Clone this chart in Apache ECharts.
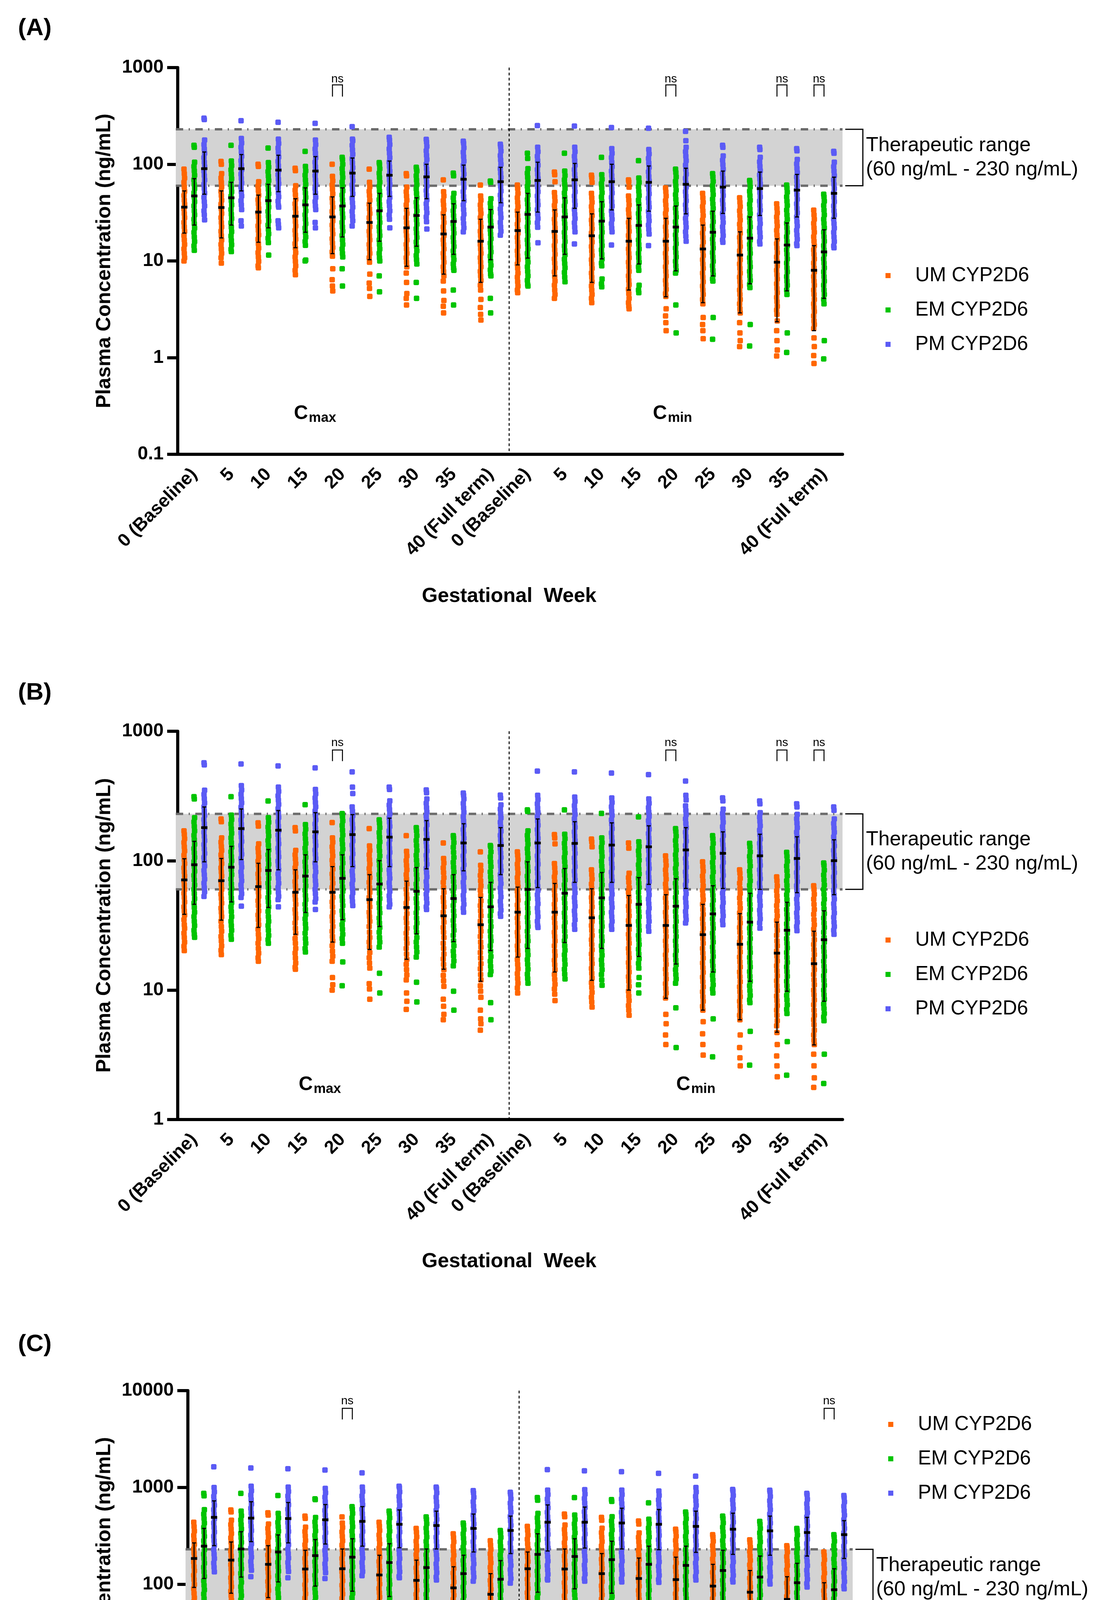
<!DOCTYPE html>
<html>
<head>
<meta charset="utf-8">
<title>Plasma concentration by CYP2D6 phenotype</title>
<script src="https://cdn.jsdelivr.net/npm/echarts/dist/echarts.min.js"></script>
<style>
  html, body { margin: 0; padding: 0; background: #fff; }
  #chart { width: 2852px; height: 5000px; }
</style>
</head>
<body>
<div id="chart"></div>
<script>
// categories: gestational week, first block Cmax then block Cmin
var weeks = ['0 (Baseline)', '5', '10', '15', '20', '25', '30', '35', '40 (Full term)'];
var categories = weeks.concat(weeks);
var genotypes = ['UM CYP2D6', 'EM CYP2D6', 'PM CYP2D6'];
var therapeutic = [60, 230];

// ---------- panel A : individual values (ng/mL), one list per category ----------
var umA = [
  [89,80,72,65,58.5,52.5,47.5,42.5,38.5,34.5,31,28,25,22.5,20.3,18.3,16.5,14.8,13.3,12,10.8,10],
  [107,100,80,72,65,58.5,52.5,47.5,42.5,38.5,34.5,31,28,25,22.5,20.3,18.3,16.5,14.8,13.3,12,10.8,9.5],
  [100,95,66,59.5,53.5,48,43,39,35,31.5,28.5,25.5,23,20.7,18.6,16.8,15.1,13.6,12.2,11,9.9,8.9,8.5],
  [91,86,60,54,48.5,43.5,39,35,31.5,28.5,25.5,23,20.7,18.6,16.8,15.1,13.6,12.2,11,9.9,8.9,8,7.2],
  [100,75,67.5,61,55,49.5,44.5,40,36,32.5,29,26,23.5,21,19,17,15.3,13.8,12.4,11.2,8.3,6.4,5.5,4.9],
  [89,65,58.5,52.5,47.5,42.5,38.5,34.5,31,28,25,22.5,20.3,18.3,16.5,14.8,13.3,12,10.8,9.7,7.3,5.9,5.2,4.3],
  [80,76,58,52,47,42.5,38,34,31,28,25,22.5,20.3,18.3,16.5,14.8,13.3,12,10.8,9.7,8.7,7.5,6,4.6,4.1,3.5],
  [69,52,47,42,38,34,31,28,25,22.5,20.3,18.3,16.5,14.8,13.3,12,10.8,9.7,8.7,7.8,7,6.2,4.9,3.9,3.4,2.9],
  [61,47,42.5,38,34,31,28,25,22.5,20.3,18.3,16.5,14.8,13.3,12,10.8,9.7,8.7,7.8,7,6.3,5.6,5,4,3.3,2.8,2.45],
  [61,56,50,45,40.5,36.5,33,29.5,26.5,24,21.5,19.4,17.5,15.7,14.1,12.7,11.4,10.3,9.3,8.4,7.5,6.8,6.1,5.5,5,4.7],
  [83,78,66,51,46,41.5,37.5,33.5,30,27,24.5,22,19.8,17.8,16,14.4,13,11.7,10.5,9.5,8.5,7.7,6.9,6.2,5.6,5,4.5,4.1],
  [77,73,65,50,45,40.5,36.5,33,29.5,26.5,24,21.5,19.4,17.5,15.7,14.1,12.7,11.4,10.3,9.3,8.4,7.5,6.8,6.1,5.5,5,4.5,4.1,3.7],
  [69,66,58,47,42.5,38,34,31,28,25,22.5,20.3,18.3,16.5,14.8,13.3,12,10.8,9.7,8.7,7.8,7,6.3,5.7,5.1,4.6,4.1,3.7,3.4,3.2],
  [57,52,47,42,38,34,31,28,25,22.5,20.3,18.3,16.5,14.8,13.3,12,10.8,9.7,8.7,7.8,7,6.3,5.7,5.1,4.6,4.3,3.2,2.7,2.3,1.9],
  [50,45,40.5,36.5,33,29.5,26.5,24,21.5,19.4,17.5,15.7,14.1,12.7,11.4,10.3,9.3,8.4,7.5,6.8,6.1,5.5,5,4.5,4,3.6,2.6,2.2,1.9,1.57],
  [45,40.5,36.5,33,29.5,26.5,24,21.5,19.4,17.5,15.7,14.1,12.7,11.4,10.3,9.3,8.4,7.5,6.8,6.1,5.5,5,4.5,4,3.6,3.2,2.9,2.3,1.8,1.5,1.3],
  [39,35,31.5,28.5,25.5,23,20.7,18.6,16.8,15.1,13.6,12.2,11,9.9,8.9,8,7.2,6.5,5.8,5.2,4.7,4.2,3.8,3.4,3.1,2.8,2.4,1.9,1.5,1.2,1.04],
  [33.5,30,27,24.5,22,19.8,17.8,16,14.4,13,11.7,10.5,9.5,8.5,7.7,6.9,6.2,5.6,5,4.5,4,3.6,3.3,3,2.7,2.4,2.2,2,1.6,1.3,1.05,0.87]
];
var emA = [
  [157,150,105,95,85.5,77,69,62,56,50.5,45.5,41,37,33,30,27,24.3,21.9,19.7,17.7,15.9,14.3,12.9],
  [157,108,97,87.5,79,71,64,57.5,52,46.5,42,38,34,30.5,27.5,24.8,22.3,20.1,18.1,16.3,14.7,13.2,12.5],
  [147,104,93.5,84,75.5,68,61,55,49.5,44.5,40,36,32.5,29,26,23.5,21.2,19.1,17.2,15.5,11.5],
  [136,95,85.5,77,69,62,56,50.5,45.5,41,37,33,30,27,24.3,21.9,19.7,17.7,15.9,14.5,10.2,10],
  [118,112,100,90,81,73,65.5,59,53,48,43,38.5,34.5,31,28,25,22.5,20.3,18.3,16.5,14.8,13.3,12,11,8.3,5.5],
  [104,100,90,81,73,65.5,59,53,48,43,38.5,34.5,31,28,25,22.5,20.3,18.3,16.5,14.8,13.3,12,10.8,10,7,4.8],
  [93,88,85,76,68.5,61.5,55.5,50,45,40.5,36.5,33,29.5,26.5,24,21.5,19.4,17.5,15.7,14.1,12.7,11.4,10.3,9.3,6,4.1],
  [81,76,50,45,40.5,36.5,33,29.5,26.5,24,21.5,19.4,17.5,15.7,14.1,12.7,11.4,10.3,9.3,8.4,8,5,3.5],
  [67,65,44,39.5,35.5,32,29,26,23.5,21,19,17,15.3,13.8,12.4,11.2,10,9,8.1,7.3,7,4.1,2.9],
  [130,115,90,81,73,65.5,59,53,48,43,38.5,34.5,31,28,25,22.5,20.3,18.3,16.5,14.8,13.3,12,10.8,9.7,8.7,7.8,7,6.3,5.7,5.5],
  [130,85,76.5,69,62,56,50.5,45.5,41,37,33,30,27,24.3,21.9,19.7,17.7,15.9,14.3,12.9,11.6,10.4,9.4,8.5,7.6,6.8,6.1],
  [118,78,70,63,57,51,46,41.5,37.5,33.5,30,27,24.5,22,19.8,17.8,16,14.4,13,11.7,10.5,9.5,8.9,6.5,5.8,5.4],
  [109,72,65,58.5,52.5,47.5,42.5,38.5,34.5,31,28,25,22.5,20.3,18.3,16.5,14.8,13.3,12,10.8,9.7,8.7,8,5.6,5,4.7],
  [89,82,74,66.5,60,54,48.5,43.5,39,35,31.5,28.5,25.5,23,20.7,18.6,16.8,15.1,13.6,12.2,11,9.9,8.9,8,7.5,3.5,1.8],
  [80,74,66.5,60,54,48.5,43.5,39,35,31.5,28.5,25.5,23,20.7,18.6,16.8,15.1,13.6,12.2,11,9.9,8.9,8,7.2,6.5,6.2,2.6,1.55],
  [68,65,58.5,52.5,47.5,42.5,38.5,34.5,31,28,25,22.5,20.3,18.3,16.5,14.8,13.3,12,10.8,9.7,8.7,7.8,7,6.3,5.7,5.3,2.2,1.32],
  [61,57,51.5,46,41.5,37.5,33.5,30,27,24.5,22,19.8,17.8,16,14.4,13,11.7,10.5,9.5,8.5,7.7,6.9,6.2,5.6,5,4.5,1.8,1.13],
  [49,46,41.5,37.5,33.5,30,27,24.5,22,19.8,17.8,16,14.4,13,11.7,10.5,9.5,8.5,7.7,6.9,6.2,5.6,5,4.5,4,3.6,1.5,0.97]
];
var pmA = [
  [300,290,178,160,144,130,117,105,94.5,85,76.5,69,62,56,50.5,45.5,41,37,33,30,26.6],
  [282,185,166,150,135,121,109,98,88,79,71.5,64,58,52,47,42,38,34,26,23],
  [272,182,164,147,133,119,107,96.5,87,78,70,63,57,51,46,41.5,37.5,36,26,24,22],
  [265,178,160,144,130,117,105,94.5,85,76.5,69,62,56,50.5,45.5,41,37,34,25,22],
  [245,182,175,157,141,127,114,103,92.5,83,75,67.5,61,55,49.5,44.5,40,36,32.5,29,26,23],
  [190,178,160,144,130,117,105,94.5,85,76.5,69,62,56,50.5,45.5,41,37,33,30,27,22],
  [181,170,153,138,124,112,100,90,81,73,66,59.5,53.5,48,43,39,35,31.5,28.5,25.5,21.4],
  [173,165,148,133,120,108,97,87.5,79,71,64,57.5,52,46.5,42,38,34,30.5,27.5,24.5,22,20],
  [161,152,137,123,111,100,90,81,73,65.5,59,53,48,43,38.5,34.5,31,28,25,22.5,20.3,18.5],
  [251,150,135,121,109,98,88,79,71.5,64,58,52,47,42,38,34,30.5,27.5,24.8,22.3,15.4],
  [248,150,135,121,109,98,88,79,71.5,64,58,52,47,42,38,34,30.5,27.5,24.8,22.3,20,15],
  [240,145,130,117,105,94.5,85,76.5,69,62,56,50.5,45.5,41,37,33,30,27,24.3,21.9,20,14.6],
  [236,142,128,115,103,93,83.5,75,67.5,61,55,49.5,44.5,40,36,32.5,29,26,23.5,21.2,19,14.4],
  [219,175,150,135,121,109,98,88,79,71.5,64,58,52,47,42,38,34,30.5,27.5,24.8,22.3,20,18,16],
  [157,150,122,110,99,89,80,72,65,58.5,52.5,47.5,42.5,38.5,34.5,31,28,25,22.5,20.3,18.3,16.5,15.6],
  [150,142,118,106,95.5,86,77.5,70,63,56.5,51,46,41.5,37.5,33.5,30,27,24.3,21.9,19.7,17.7,15.9,15],
  [145,138,112,101,91,82,74,66.5,60,54,48.5,43.5,39,35,31.5,28.5,25.5,23,20.7,18.6,16.8,15.1,14.4],
  [136,130,105,94.5,85,76.5,69,62,56,50.5,45.5,41,37,33,30,27,24.3,21.9,19.7,17.7,15.9,14.3,13.7]
];
// [lower, centre, upper] of the black error bars
var umBarA = [[19.4,36,53],[17.3,35.7,53],[15.6,32,48],[13.7,29,44],[11.9,28.5,46],[10.3,25,39.6],[8.8,22,35],[7.3,19,30],[6,16,27],
  [9.1,20.6,32],[7,20.2,33.7],[6,18.2,30.7],[5,16,27.6],[4.26,16,27.6],[3.7,13.3,23.5],[2.9,11.5,20],[2.35,9.7,16.9],[1.9,8,14.4]];
var emBarA = [[23.5,47,71],[23.5,45,65],[22,42,62],[19.8,38,57],[17.7,37,57],[16,33,50],[14.2,29.5,45],[11.7,25.6,39],[10.3,22.4,34],
  [10.7,30.3,50],[11.7,28.5,45],[10.5,25.8,41],[9.3,23.3,38],[7.9,22.4,37],[7,19.8,32.7],[5.8,17.2,28.5],[4.9,14.6,24.7],[4.1,12.4,21]];
var pmBarA = [[49,90,134],[53,90,126],[52,87,124],[49,85,120],[46.5,81,116],[46.5,77,108],[44,74,100],[42,70,98],[40,66,93],
  [32,68,105],[35,69,102],[33.7,66,100],[32.7,65,96],[30.7,62,91],[31,58,85],[29.5,56,83],[28.5,54,78.5],[27.6,50,73.5]];

// ---------- panel B ----------
var umB = [
  [170,160,148,138,128,119,110,102,95,88,82,76,70,65,60,56,52,48,44,41,38,35,32,30,27.5,25.5,23.5,21.8,20.2],
  [210,200,150,139,129,120,111,103,95,88,82,76,70,65,60,55,51,47,43,40,37,34,31,28.5,26,24,22,20.3,18.8],
  [196,185,135,125,116,107,99,92,85,79,73,67,62,57,53,49,45,41,38,35,32,29.5,27,25,23,21,19.3,17.8,16.7],
  [180,170,120,111,103,95,88,81,75,69,64,59,54,50,46,42,39,36,33,30,27.5,25,23,21,19.3,17.7,16.2,15,14.5],
  [197,150,139,128,118,109,101,93,86,79,73,67,62,57,52,48,44,40,37,34,31,28.5,26,24,22,20,18.3,16.7,12.5,11,10],
  [177,130,120,111,102,94,87,80,74,68,62,57,52,48,44,40,37,34,31,28,25.5,23.5,21.5,19.5,17.8,16.2,14.8,11.2,10.2,8.5],
  [156,118,109,100,92,85,78,72,66,60,55,51,47,43,39,36,33,30,27.5,25,23,21,19,17.3,15.8,14.4,13.1,12,9.5,8.2,7.1],
  [137,104,96,88,81,74,68,62,57,52,48,44,40,36.5,33.5,30.5,28,25.5,23,21,19,17.4,15.8,14.4,13,11.8,10.7,8.5,7.5,6.5,5.9],
  [117,92,84,77,70,64,59,54,49,45,41,37.5,34,31,28.5,26,23.5,21.5,19.5,17.7,16,14.6,13.2,12,10.8,9.8,8.8,7,6,5.5,4.9],
  [117,110,102,94,87,80,74,68,63,58,53.5,49.5,45.5,42,39,36,33,30.5,28,26,24,22,20.3,18.7,17.2,15.8,14.6,13.4,12.3,11.3,10.4,9.5],
  [159,150,135,95,88,81,75,69,64,59,54,50,46,42.5,39,36,33,30.5,28,26,24,22,20,18.5,17,15.7,14.4,13.2,12.1,11.1,10.2,9.3,8.3],
  [147,140,128,85,78,72,66,61,56,52,48,44,40.5,37,34,31.5,29,26.5,24.5,22.5,20.5,19,17.4,16,14.7,13.5,12.4,11.4,10.5,9.6,8.8,8.1,7.4],
  [137,125,80,74,68,62,57,53,48.5,44.5,41,37.5,34.5,32,29.5,27,25,23,21,19.3,17.8,16.3,15,13.8,12.7,11.7,10.7,9.8,9,8.3,7.6,7,6.4],
  [109,100,92,85,78,72,66,61,56,51.5,47.5,43.5,40,37,34,31,28.5,26,24,22,20.3,18.7,17.2,15.8,14.5,13.3,12.2,11.2,10.3,9.5,8.7,6.5,5.5,4.5,3.8],
  [98,90,83,76,70,64,59,54,50,46,42,38.5,35.5,32.5,30,27.5,25,23,21,19.3,17.7,16.2,14.9,13.7,12.6,11.6,10.6,9.7,8.9,8.2,7.5,7,5.7,4.6,3.8,3.15],
  [85,80,73,67,61,56,51.5,47,43,39.5,36,33,30.5,28,25.5,23.5,21.5,19.7,18,16.5,15.1,13.8,12.7,11.6,10.6,9.7,8.9,8.2,7.5,6.9,6.4,5.9,4.5,3.6,3,2.6],
  [75,70,64,58.5,53.5,49,45,41,37.5,34.5,31.5,29,26.5,24,22,20,18.3,16.8,15.4,14.1,12.9,11.8,10.8,9.9,9,8.3,7.6,7,6.4,5.8,5.3,4.7,3.8,3.1,2.6,2.14],
  [64,60,55,50.5,46,42,38.5,35,32,29.5,27,24.5,22.5,20.5,18.8,17.2,15.7,14.4,13.2,12,11,10,9.2,8.4,7.7,7,6.4,5.9,5.4,4.9,4.5,4.1,3.8,3.2,2.6,2.1,1.77]
];
var emB = [
  [312,300,215,199,184,170,157,145,134,124,115,106,98,90,83,77,71,65,60,55.5,51,47,43.5,40,37,34,31.5,29,27,25.6],
  [312,225,208,192,177,163,150,138,127,117,108,100,92,85,78,72,66,61,56,51.5,47.5,44,40.5,37,34,31.5,29,26.5,24.7],
  [289,215,198,182,168,155,143,132,121,111,102,94,87,80,73,67,62,57,52,48,44,40.5,37,34,31.5,29,26.5,24.5,23],
  [271,190,175,161,148,136,125,115,106,98,90,83,76,70,64,59,54,50,46,42,38.5,35.5,32.5,30,27.5,25,23,21,19.7],
  [231,220,203,187,172,158,145,134,123,113,104,96,88,81,75,69,63,58,53,49,45,41,38,35,32,29.5,27,25,23,16.5,10.8],
  [207,195,180,165,152,140,129,119,109,100,92,85,78,72,66,61,56,51,47,43,39.5,36,33,30.5,28,25.5,23.5,21.5,13.5,9.5],
  [180,170,156,143,131,120,110,101,93,85,78,72,66,61,56,51,47,43,39.5,36,33,30.5,28,25.5,23.5,21.5,19.7,18,11.5,8.1],
  [156,150,138,127,116,106,97,89,82,75,69,63,58,53,49,45,41,37.5,34.5,31.5,29,26.5,24,22,20,18.4,16.8,15.4,9.8,7],
  [131,128,117,107,98,90,82,75,69,63,58,53,48.5,44.5,41,37.5,34,31,28.5,26,24,22,20,18.2,16.7,15.3,14,13.2,8,5.9],
  [247,240,170,157,145,134,124,114,105,97,90,83,76,70,65,60,55,51,47,43,39.5,36.5,33.5,31,28.5,26,24,22,20.3,18.7,17.2,15.8,14.5,13.3,12.3,11.3],
  [247,160,148,136,125,115,106,98,90,83,77,71,65,60,55,51,47,43,39.5,36.5,33.5,31,28.5,26,24,22,20.3,18.7,17.2,15.8,14.5,13.3,12.2],
  [232,150,138,127,117,108,99,91,84,77,71,65,60,55,51,47,43,39.5,36.5,33.5,31,28.5,26,24,22,20.2,18.6,17.1,15.7,14.4,13.2,12,10.9],
  [218,140,129,119,110,101,93,86,79,73,67,62,57,52,48,44,40.5,37,34,31.5,29,26.5,24.5,22.5,20.7,19,17.5,16.1,14.8,12.5,11,9.5],
  [177,168,155,143,131,121,111,102,94,87,80,73,67,62,57,52,48,44,40.5,37,34,31,28.5,26,24,22,20.2,18.6,17.1,15.7,14.4,13.2,12.2,11.3,7.3,3.6],
  [156,148,136,125,115,106,97,89,82,75,69,63.5,58.5,54,49.5,45.5,42,38.5,35.5,32.5,30,27.5,25.5,23.5,21.5,19.8,18.2,16.7,15.4,14.1,13,12,11,10.2,9.5,6,3.05],
  [136,128,117,108,99,91,83,76.5,70,64.5,59,54.5,50,46,42,38.5,35.5,32.5,30,27.5,25,23,21.2,19.5,17.9,16.4,15.1,13.9,12.8,11.7,10.8,9.9,9.1,8.4,8,4.8,2.63],
  [116,108,99,91,83.5,76.5,70,64.5,59,54.5,50,46,42,38.5,35.5,32.5,30,27.5,25,23,21.2,19.5,17.9,16.4,15.1,13.9,12.8,11.7,10.8,9.9,9.1,8.4,7.7,7.1,6.6,4,2.2],
  [96,92,84.5,77.5,71,65,60,55,50.5,46.5,42.5,39,36,33,30.5,28,25.5,23.5,21.5,19.8,18.2,16.7,15.3,14.1,12.9,11.9,10.9,10,9.2,8.5,7.8,7.2,6.6,6.2,5.8,3.2,1.9]
];
var pmB = [
  [571,550,350,325,302,280,260,241,224,208,193,179,166,154,143,133,123,114,106,98,91,84,78,72,67,62,57.5,53],
  [559,380,352,326,302,280,259,240,222,206,191,177,164,152,141,131,121,112,104,96,89,82,76,70,65,60,55.5,52,44.5],
  [540,370,343,317,294,272,252,233,216,200,185,171,158,146,135,125,116,107,99,92,85,79,73,67,62,57,53,50,44],
  [521,355,329,305,282,261,242,224,207,192,178,165,153,141,131,121,112,104,96,89,82,76,70,65,60,55.5,51,48,42],
  [485,370,330,260,241,223,207,192,178,165,153,142,132,122,113,105,97,90,83,77,71,66,61,56.5,52.5,48.5,45],
  [370,355,290,269,249,231,214,198,184,170,158,146,135,125,116,107,99,92,85,79,73,67.5,62.5,58,53.5,49.5,46,44],
  [352,335,300,278,257,238,221,204,189,175,162,150,139,129,119,110,102,94,87,81,75,69,64,59,55,51,47,44,42],
  [333,320,300,277,256,237,219,203,188,174,161,149,138,127,118,109,101,93,86,80,74,68,63,58.5,54,50,46,43,40],
  [321,305,270,250,231,214,198,183,169,157,145,134,124,115,106,98,91,84,78,72,66.5,61.5,57,52.5,48.5,45,41.5,39,37.2],
  [492,320,297,275,255,236,219,203,188,174,161,149,138,128,118,109,101,94,87,80,74,68.5,63.5,59,54.5,50.5,46.5,43,40,37,34,31.5,30.5],
  [485,310,287,266,246,228,211,195,181,167,155,143,133,123,114,105,97,90,83,77,71,66,61,56.5,52,48,44.5,41,38,35,32,29.5],
  [475,305,282,261,242,224,207,192,177,164,152,141,130,120,111,103,95,88,81.5,75.5,70,64.5,59.5,55,51,47,43.5,40,37,34,31.5,29.5],
  [462,300,278,257,238,220,204,189,175,162,150,139,128,119,110,102,94,87,80.5,74.5,69,64,59,54.5,50.5,46.5,43,40,37,34,31,28.5],
  [412,320,295,265,245,227,210,194,180,166,154,142,131,121,112,104,96,89,82,76,70,65,60,55.5,51.5,47.5,44,40.5,37.5,35,33],
  [306,290,250,231,214,198,183,169,156,144,133,123,114,105,97,90,83,77,71,65.5,60.5,56,51.5,47.5,44,40.5,37.5,34.5,32],
  [289,275,235,217,201,186,172,159,147,136,126,116,107,99,92,85,78.5,72.5,67,62,57,53,49,45,41.5,38.5,35.5,33,30.1],
  [275,260,228,211,195,180,166,153,141,130,120,111,103,95,88,81,75,69,64,59,54.5,50.5,46.5,43,39.5,36.5,33.5,31,28.8],
  [260,245,210,194,179,166,153,141,130,120,111,103,95,88,81,75,69,64,59,54.5,50.5,46.5,43,39.5,36.5,33.5,31,29,27]
];
var umBarB = [[38.5,71,103.5],[34.7,70,104],[30.5,63,95.5],[27,57,85],[23.5,57,90],[20.6,50,78],[17.3,43.5,69.5],[14.5,37.5,60.7],[11.7,32,52],
  [18,40,62.5],[13.8,40,66.7],[11.9,36.2,60.7],[10,31.6,53.8],[8.65,31.6,54.6],[7,26.8,46],[5.9,22.6,39],[4.73,19.3,33.5],[3.77,16,28.5]];
var emBarB = [[46,93,141],[48,89,129],[43.5,84,122],[39.8,76,111],[35,73,111],[31,66,100],[27.2,58,88.5],[23.7,51,78],[20.2,44,68],
  [21,60,98],[23.3,56,87],[21,51.6,81],[18.2,46,74],[15.9,44.5,72.5],[13.8,38.8,64],[11.7,33.5,56],[9.8,29,47.7],[8.2,24.5,41]];
var pmBarB = [[98,180,260],[102,177,251],[85,172,244],[98,167,235],[90,159,227],[90,152,213],[86.5,146,204],[83.5,137,193],[78,131,180],
  [62,137,210],[68,136,200],[68,132,196],[65.6,128,186],[61,121,180],[61,114,167],[60,109,160],[56.6,104,153],[54.6,100,145]];

// ---------- panel C ----------
var umC = [
  [438,395,355,320,288,259,233,210,189,170,153,138,124,112,100,90,81,73,66,59,53,48.5],
  [587,560,460,414,373,335,302,272,245,220,198,178,160,144,130,117,105,94.5,85,76.5,69,62,56,50.5,45],
  [548,520,420,378,340,306,275,248,223,201,181,163,146,132,119,107,96,86.5,78,70,63,56.5,51,46,41.5,40],
  [507,480,390,351,316,284,256,230,207,186,168,151,136,122,110,99,89,80,72,65,58.5,52.5,47.5,42.5,38.5,35],
  [497,430,387,348,313,282,254,228,205,185,166,150,135,121,109,98,88,79.5,71.5,64.5,58,52,47,42,38,34,30.5,27.5,24.8,22.9],
  [438,400,360,324,292,262,236,212,191,172,155,139,125,113,101,91,82,74,66.5,60,54,48.5,43.5,39,35,31.5,28.5,25.5,23,20.7,19.5],
  [378,345,310,279,251,226,203,183,165,148,133,120,108,97,87.5,79,71,64,57.5,52,46.5,42,38,34,30.5,27.5,24.8,22.3,20.1,18.1,16.3,16],
  [333,305,275,247,222,200,180,162,146,131,118,106,95.5,86,77.5,70,63,56.5,51,46,41.5,37.5,33.5,30,27,24.3,21.9,19.7,17.7,15.9,14.3,13.3],
  [282,255,230,207,186,167,150,135,122,110,99,89,80,72,65,58.5,52.5,47.5,42.5,38.5,34.5,31,28,25,22.5,20.3,18.3,16.5,14.8,13.3,12,11.4],
  [397,360,324,292,262,236,212,191,172,155,139,125,113,101,91,82,74,66.5,60,54,48.5,43.5,39,35],
  [532,500,410,369,332,299,269,242,218,196,176,159,143,129,116,104,94,84.5,76,68.5,61.5,55.5,50,45,40.5,36.5,33],
  [492,460,380,342,308,277,249,224,202,182,164,147,132,119,107,96.5,87,78,70,63,57,51,46,41.5,37.5,33.5,30,28.9],
  [451,420,340,306,275,248,223,201,181,163,146,132,119,107,96,86.5,78,70,63,56.5,51,46,41.5,37.5,33.5,30,27,25],
  [371,350,315,284,255,230,207,186,167,151,136,122,110,99,89,80,72,65,58.5,52.5,47.5,42.5,38.5,34.5,31,28,24,20,17.5,15.5],
  [326,310,279,251,226,203,183,165,148,133,120,108,97,87.5,79,71,64,57.5,52,46.5,42,38,34,30.5,27.5,25,21,17,14.5,12.7],
  [288,270,243,219,197,177,159,143,129,116,104,94,84.5,76,68.5,61.5,55.5,50,45,40.5,36.5,33,29.5,26.5,24,21.5,20,16.5,13.5,11.5,10.5],
  [251,240,216,194,175,157,141,127,114,103,93,83.5,75,67.5,61,55,49.5,44.5,40,36,32.5,29,26,23.5,21.2,19.1,17.2,16,13,11,9.5,8.6],
  [216,200,180,162,146,131,118,106,95.5,86,77.5,70,63,56.5,51,46,41.5,37.5,33.5,30,27,24.3,21.9,19.7,17.7,15.9,14.3,12.9,10.5,9,7.8,7.1]
];
var emC = [
  [871,820,590,531,478,430,387,348,313,282,254,228,205,185,166,150,135,121,109,98,88,79.5,71.5,64.5,63],
  [871,570,513,462,415,374,336,303,272,245,221,199,179,161,145,130,117,105,94.5,85,76.5,69,62],
  [826,540,486,437,394,354,319,287,258,232,209,188,169,152,137,123,111,100,90,81,73,65.5,59,56],
  [764,750,490,441,397,357,321,289,260,234,211,190,171,154,138,124,112,101,91,82,74,66.5,60,54,48.5],
  [635,600,540,486,437,394,354,319,287,258,232,209,188,169,152,137,123,111,100,90,81,73,65.5,59,38.7,24.5],
  [570,540,486,437,394,354,319,287,258,232,209,188,169,152,137,123,111,100,90,81,73,65.5,59,53,48,33,21],
  [497,470,423,381,343,308,278,250,225,202,182,164,148,133,120,108,97,87.5,79,71,64,57.5,52,46.5,42,28.3,18.2],
  [430,410,369,332,299,269,242,218,196,176,159,143,129,116,104,94,84.5,76,68.5,61.5,55.5,50,45,40.5,38,22.9,15.5],
  [360,340,306,275,248,223,201,181,163,146,132,119,107,96,86.5,78,70,63,56.5,51,46,41.5,37.5,33.5,19.1,13],
  [787,740,540,486,437,394,354,319,287,258,232,209,188,169,152,137,123,111,100,90,81,73,65.5,59,53,48,44],
  [787,520,468,421,379,341,307,276,249,224,201,181,163,147,132,119,107,96.5,87,78,70,63,57,51,46],
  [750,720,500,450,405,365,328,295,266,239,215,194,174,157,141,127,114,103,93,83.5,75,67.5,61,55,49.5,44.5,40],
  [694,470,423,381,343,308,278,250,225,202,182,164,148,133,120,108,97,87.5,79,71,64,57.5,52,46.5,42,38,35.5],
  [559,530,477,429,386,348,313,282,254,228,205,185,166,150,135,121,109,98,88,79.5,71.5,64.5,58,52,47,42.5,40,26.2,14.6],
  [507,480,432,389,350,315,283,255,230,207,186,167,151,136,122,110,99,89,80,72,65,58.5,52.5,47.5,42.5,38.5,21.5,12.6],
  [447,420,378,340,306,275,248,223,201,181,163,146,132,119,107,96,86.5,78,70,63,56.5,51,46,41.5,37.5,33.5,31,17.7,10.7],
  [378,360,324,292,262,236,212,191,172,155,139,125,113,101,91,82,74,66.5,60,54,48.5,43.5,39,35,31.5,28.5,26,15,9],
  [326,310,279,251,226,203,183,165,148,133,120,108,97,87.5,79,71,64,57.5,52,46.5,42,38,34,30.5,27.5,24.8,22.3,12.3,7.6]
];
var pmC = [
  [1636,1000,900,810,729,656,590,531,478,430,387,348,313,282,254,228,205,185,166,150,135],
  [1590,1030,927,834,751,676,608,547,493,443,399,359,323,291,262,236,212,191,172,155,140,120],
  [1560,1010,909,818,736,663,596,537,483,435,391,352,317,285,257,231,208,187,168,151,136,117],
  [1514,980,882,794,714,643,579,521,469,422,380,342,307,277,249,224,202,182,163,147,132,115],
  [1416,1010,909,818,736,663,596,537,483,435,391,352,317,285,257,231,208,187,168,151,136,123],
  [1030,1000,900,810,729,656,590,531,478,430,387,348,313,282,254,228,205,185,166,150,135,121,117],
  [1009,980,882,794,714,643,579,521,469,422,380,342,307,277,249,224,202,182,163,147,132,119,111],
  [929,880,792,713,642,577,520,468,421,379,341,307,276,248,223,201,181,163,147,132,119,108],
  [893,850,765,689,620,558,502,452,407,366,329,296,267,240,216,194,175,157,142,128,115,103],
  [1531,940,846,761,685,617,555,500,450,405,364,328,295,266,239,215,194,174,157,141,127,114,111],
  [1486,950,855,770,693,623,561,505,454,409,368,331,298,268,241,217,196,176,158,143,128,115,108],
  [1456,940,846,761,685,617,555,500,450,405,364,328,295,266,239,215,194,174,157,141,127,114,106],
  [1400,920,828,745,671,604,543,489,440,396,356,321,289,260,234,211,190,171,154,138,124,112,105],
  [1309,1000,900,810,729,656,590,531,478,430,387,348,313,282,254,228,205,185,166,150,135,121,111],
  [955,920,828,745,671,604,543,489,440,396,356,321,289,260,234,211,190,171,154,138,124,112,106],
  [937,900,810,729,656,590,531,478,430,387,348,313,282,254,228,205,185,166,150,135,121,109,101],
  [871,840,756,680,612,551,496,446,402,362,325,293,264,237,214,192,173,156,140,126,113,102,94],
  [826,790,711,640,576,518,466,420,378,340,306,275,248,223,201,181,163,146,132,119,107,96,90]
];
var umBarC = [[93,185,268],[81,178,274],[73,161,251],[63,144,225],[56,145,232],[50,125,200],[41,110,178],[33.8,92,152],[28.3,79,129],
  [68,145,216],[56,144,232],[48.5,129,208],[40.6,115,187],[36.9,112,191],[30.6,96,161],[26.2,83,139],[20.7,70,120],[16.6,60,104]];
var emBarC = [[115,248,378],[119,232,350],[106,216,324],[96,198,290],[85,191,296],[75,168,263],[66,149,232],[55,129,200],[48.5,113,176],
  [83,204,333],[90,194,296],[81,180,279],[66,161,248],[62,157,248],[53.5,139,225],[46,119,196],[38.7,104,165],[32,88,145]];
var pmBarC = [[251,492,728],[276,483,713],[268,478,700],[261,464,667],[248,447,635],[239,417,587],[232,405,570],[216,378,532],[208,360,507],
  [221,438,661],[237,438,628],[232,430,611],[228,417,593],[214,397,570],[204,371,543],[200,357,507],[196,343,492],[185,326,455]];

// categories where UM vs EM is not significant
var nsA = [4, 13, 16, 17];
var nsB = [4, 13, 16, 17];
var nsC = [4, 17];

var colors = ['#ff6600', '#00c400', '#5b5bf5'];
var FONT = 'Liberation Sans';

// layout of each panel (pixels) and annotation placement
var panels = [
  { tag: '(A)', tagTop: 42, grid: { left: 450, right: 695, top: 173, height: 990 }, yOff: -5, yGap: 161,
    yMin: 0.1, yMax: 1000, legendLeft: 2262, legendTop: 675, ns: nsA, nsY: [501, 663, 760],
    dots: [umA, emA, pmA], bars: [umBarA, emBarA, pmBarA], subPos: [[3.76, 0.262], [13.41, 0.262]] },
  { tag: '(B)', tagTop: 1743, grid: { left: 450, right: 695, top: 1872, height: 994 }, yOff: -5, yGap: 161,
    yMin: 1, yMax: 1000, legendLeft: 2262, legendTop: 2376, ns: nsB, nsY: [588, 716, 812],
    dots: [umB, emB, pmB], bars: [umBarB, emBarB, pmBarB], subPos: [[3.89, 1.85], [14.04, 1.85]] },
  { tag: '(C)', tagTop: 3411, grid: { left: 475, right: 669, top: 3560, height: 992 }, yOff: -6, yGap: 187,
    yMin: 1, yMax: 10000, legendLeft: 2269, legendTop: 3616, ns: nsC, nsY: [5047, 6571, 7800],
    dots: [umC, emC, pmC], bars: [umBarC, emBarC, pmBarC], subPos: [[4.62, 2.98], [13.42, 2.98]] }
];

var offsets = [-0.27, 0, 0.27];

function dotData(cols, off) {
  var out = [];
  cols.forEach(function (vals, i) {
    vals.forEach(function (v, j) {
      out.push([i + 0.5 + off + ((j % 3) - 1) * 0.008, v]);
    });
  });
  return out;
}

function barData(rows, off) {
  return rows.map(function (r, i) { return [i + 0.5 + off, r[0], r[1], r[2]]; });
}

function renderBar(params, api) {
  var x = api.value(0);
  var lo = api.coord([x, api.value(1)]);
  var md = api.coord([x, api.value(2)]);
  var hi = api.coord([x, api.value(3)]);
  var thin = { stroke: '#000', lineWidth: 3 };
  return { type: 'group', children: [
    { type: 'line', shape: { x1: lo[0], y1: lo[1], x2: hi[0], y2: hi[1] }, style: thin },
    { type: 'line', shape: { x1: lo[0] - 5, y1: lo[1], x2: lo[0] + 5, y2: lo[1] }, style: thin },
    { type: 'line', shape: { x1: hi[0] - 5, y1: hi[1], x2: hi[0] + 5, y2: hi[1] }, style: thin },
    { type: 'line', shape: { x1: md[0] - 8, y1: md[1], x2: md[0] + 8, y2: md[1] }, style: { stroke: '#000', lineWidth: 7 } }
  ]};
}

function renderBand(params, api) {
  var cs = params.coordSys;
  var yLo = api.coord([0, api.value(1)])[1];
  var yHi = api.coord([0, api.value(2)])[1];
  var xd = api.coord([weeks.length, api.value(1)])[0];
  var dash = { stroke: '#6b6b6b', lineWidth: 6, lineDash: [19, 14, 3, 14] };
  return { type: 'group', children: [
    { type: 'rect', shape: { x: cs.x, y: yHi, width: cs.width, height: yLo - yHi }, style: { fill: '#d3d3d3' } },
    { type: 'line', shape: { x1: cs.x, y1: yHi, x2: cs.x + cs.width, y2: yHi }, style: dash },
    { type: 'line', shape: { x1: cs.x, y1: yLo, x2: cs.x + cs.width, y2: yLo }, style: dash },
    { type: 'line', shape: { x1: xd, y1: cs.y, x2: xd, y2: cs.y + cs.height }, style: { stroke: '#000', lineWidth: 2.5, lineDash: [7, 6] } }
  ]};
}

function makeNotes(p) {
  return function (params, api) {
    var cs = params.coordSys;
    var kids = [];
    p.ns.forEach(function (i) {
      var a = api.coord([i + 0.5 + offsets[0], p.nsY[1]]);
      var b = api.coord([i + 0.5, p.nsY[0]]);
      var t = api.coord([i + 0.5 - 0.135, p.nsY[2]]);
      kids.push({ type: 'polyline', shape: { points: [[a[0], b[1]], [a[0], a[1]], [b[0], a[1]], [b[0], b[1]]] },
        style: { stroke: '#000', lineWidth: 2.5, fill: null } });
      kids.push({ type: 'text', x: t[0], y: t[1], style: { text: 'ns', fontFamily: FONT, fontSize: 30, fill: '#000', align: 'center', verticalAlign: 'middle' } });
    });
    ['max', 'min'].forEach(function (s, k) {
      var c = api.coord(p.subPos[k]);
      kids.push({ type: 'text', x: c[0], y: c[1], style: {
        text: '{c|C}{s|' + s + '}', align: 'center', verticalAlign: 'middle',
        rich: {
          c: { fontFamily: FONT, fontSize: 50, fontWeight: 'bold', fill: '#000', lineHeight: 56 },
          s: { fontFamily: FONT, fontSize: 35, fontWeight: 'bold', fill: '#000', lineHeight: 56, padding: [22, 0, 0, 2] }
        } } });
    });
    var yHi = api.coord([0, therapeutic[1]])[1];
    var yLo = api.coord([0, therapeutic[0]])[1];
    var xr = cs.x + cs.width;
    kids.push({ type: 'polyline', shape: { points: [[xr + 7, yHi], [xr + 52, yHi], [xr + 52, yLo], [xr + 7, yLo]] },
      style: { stroke: '#000', lineWidth: 3, fill: null } });
    kids.push({ type: 'text', x: xr + 60, y: (yHi + yLo) / 2, style: {
      text: 'Therapeutic range\n(60 ng/mL - 230 ng/mL)', fontFamily: FONT, fontSize: 52, lineHeight: 62,
      fill: '#000', align: 'left', verticalAlign: 'middle' } });
    return { type: 'group', children: kids };
  };
}

var option = {
  animation: false,
  backgroundColor: '#fff',
  textStyle: { fontFamily: FONT, color: '#000' },
  grid: [], xAxis: [], yAxis: [], series: [], legend: [], graphic: []
};

panels.forEach(function (p, k) {
  option.grid.push(p.grid);
  option.xAxis.push({
    type: 'category', gridIndex: k, data: categories, boundaryGap: true,
    axisLine: { lineStyle: { color: '#000', width: 8 } },
    axisTick: { alignWithLabel: true, interval: 0, length: 24, lineStyle: { color: '#000', width: 8 } },
    axisLabel: { interval: 0, rotate: 45, fontSize: 47, fontWeight: 'bold', color: '#000', margin: 44 },
    name: 'Gestational  Week', nameLocation: 'middle', nameGap: 338,
    nameTextStyle: { fontSize: 52, fontWeight: 'bold', color: '#000' }
  });
  option.xAxis.push({ type: 'value', gridIndex: k, min: 0, max: categories.length, show: false });
  option.yAxis.push({
    type: 'log', logBase: 10, gridIndex: k, min: p.yMin, max: p.yMax, offset: p.yOff,
    axisLine: { show: true, lineStyle: { color: '#000', width: 8 } },
    axisTick: { show: true, length: 27, lineStyle: { color: '#000', width: 8 } },
    splitLine: { show: false }, minorTick: { show: false },
    axisLabel: { fontSize: 48, fontWeight: 'bold', color: '#000', margin: 36,
      formatter: function (v) { return v < 1 ? v.toFixed(1) : String(Math.round(v)); } },
    name: 'Plasma Concentration (ng/mL)', nameLocation: 'middle', nameGap: p.yGap,
    nameTextStyle: { fontSize: 52, fontWeight: 'bold', color: '#000' }
  });
  var xi = 2 * k;
  option.series.push({
    type: 'custom', xAxisIndex: xi + 1, yAxisIndex: k, z: 1, silent: true,
    data: [[0, therapeutic[0], therapeutic[1]]], encode: { x: 0, y: [1, 2] }, renderItem: renderBand
  });
  genotypes.forEach(function (g, s) {
    option.series.push({
      name: g, type: 'scatter', xAxisIndex: xi + 1, yAxisIndex: k, z: 3,
      symbol: 'roundRect', symbolSize: 14, itemStyle: { color: colors[s], opacity: 1 },
      data: dotData(p.dots[s], offsets[s])
    });
  });
  genotypes.forEach(function (g, s) {
    option.series.push({
      type: 'custom', xAxisIndex: xi + 1, yAxisIndex: k, z: 5, silent: true,
      data: barData(p.bars[s], offsets[s]), encode: { x: 0, y: [1, 2, 3] }, renderItem: renderBar
    });
  });
  option.series.push({
    type: 'custom', xAxisIndex: xi + 1, yAxisIndex: k, z: 6, silent: true, clip: false,
    data: [[1, p.yMin, p.yMax]], encode: { x: 0, y: [1, 2] }, renderItem: makeNotes(p)
  });
  option.legend.push({
    data: genotypes, orient: 'vertical', left: p.legendLeft, top: p.legendTop,
    icon: 'rect', itemWidth: 13, itemHeight: 13, itemGap: 37,
    textStyle: { fontSize: 51, color: '#000', padding: [0, 0, 0, 58] }
  });
  option.graphic.push({ type: 'text', left: 46, top: p.tagTop,
    style: { text: p.tag, fontFamily: FONT, fontSize: 62, fontWeight: 'bold', fill: '#000' } });
});

var chart = echarts.init(document.getElementById('chart'));
chart.setOption(option);
</script>
</body>
</html>
